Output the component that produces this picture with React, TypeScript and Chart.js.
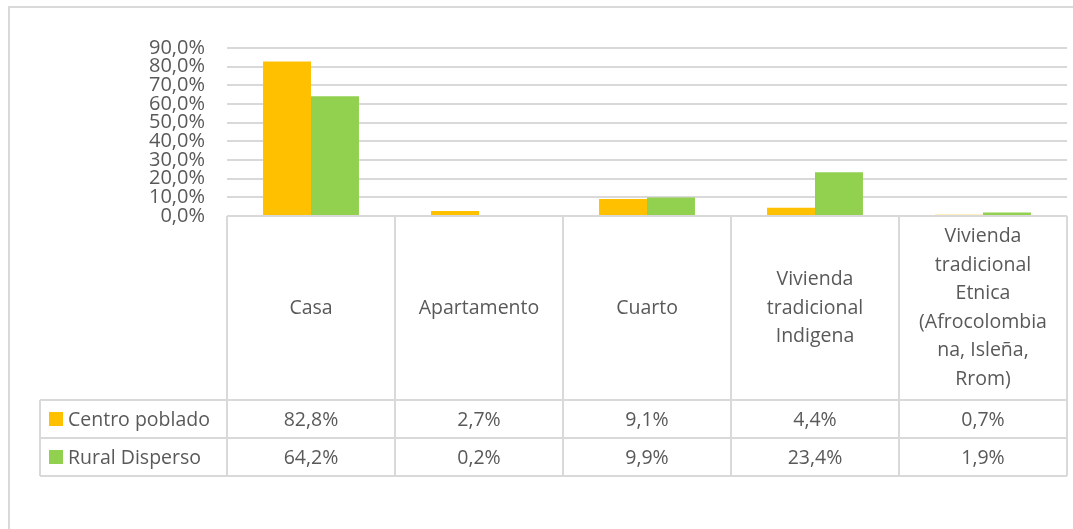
import React, { useEffect, useRef } from "react";
import { Chart, registerables } from "chart.js";

Chart.register(...registerables);

const categories: string[][] = [
  ["Casa"],
  ["Apartamento"],
  ["Cuarto"],
  ["Vivienda", "tradicional", "Indigena"],
  ["Vivienda", "tradicional", "Etnica", "(Afrocolombia", "na, Isleña,", "Rrom)"],
];
const seriesNames = ["Centro poblado", "Rural Disperso"];
const centroPoblado = [82.8, 2.7, 9.1, 4.4, 0.7];
const ruralDisperso = [64.2, 0.2, 9.9, 23.4, 1.9];
const seriesColors = ["#FFC000", "#92D050"];
const yMax = 90;
const yStep = 10;

const fmt = (v: number) => v.toFixed(1).replace(".", ",") + "%";

const FONT = "'Open Sans', 'Noto Sans', sans-serif";
const TEXT = "#595959";
const LINE = "#d9d9d9";

const tablePlugin = {
  id: "dataTable",
  afterDraw(chart: any) {
    const ctx = chart.ctx as CanvasRenderingContext2D;
    const area = chart.chartArea;
    const xs = chart.scales.x;
    const n = categories.length;
    const colW = (area.right - area.left) / n;
    const top = area.bottom;
    const headerH = 184;
    const rowH = 38;
    const legendLeft = 40;
    const headerBottom = top + headerH;
    const row1Bottom = headerBottom + rowH;
    const row2Bottom = row1Bottom + rowH;

    ctx.save();
    // outer frame
    ctx.strokeStyle = LINE;
    ctx.lineWidth = 2;
    ctx.beginPath();
    ctx.moveTo(9, chart.height);
    ctx.lineTo(9, 7);
    ctx.lineTo(chart.width, 7);
    ctx.stroke();

    // table lines
    ctx.beginPath();
    ctx.moveTo(area.left, top);
    ctx.lineTo(area.right, top);
    [headerBottom, row1Bottom, row2Bottom].forEach((y) => {
      ctx.moveTo(legendLeft, y);
      ctx.lineTo(area.right, y);
    });
    for (let i = 0; i <= n; i++) {
      const x = area.left + i * colW;
      ctx.moveTo(x, top);
      ctx.lineTo(x, row2Bottom);
    }
    ctx.moveTo(legendLeft, headerBottom);
    ctx.lineTo(legendLeft, row2Bottom);
    ctx.stroke();

    // header text
    ctx.fillStyle = TEXT;
    ctx.font = `19.5px ${FONT}`;
    ctx.textAlign = "center";
    ctx.textBaseline = "middle";
    const lh = 28.6;
    categories.forEach((lines, i) => {
      const cx = xs.getPixelForValue(i);
      const cy = top + headerH / 2;
      const start = cy - ((lines.length - 1) * lh) / 2;
      lines.forEach((ln, j) => ctx.fillText(ln, cx, start + j * lh));
    });

    // data rows
    const rows = [centroPoblado, ruralDisperso];
    rows.forEach((vals, r) => {
      const cy = headerBottom + rowH * r + rowH / 2;
      ctx.textAlign = "center";
      ctx.fillStyle = TEXT;
      vals.forEach((v, i) => {
        ctx.fillText(fmt(v), xs.getPixelForValue(i), cy + 1);
      });
      ctx.fillStyle = seriesColors[r];
      ctx.fillRect(legendLeft + 9, cy - 7, 14, 14);
      ctx.fillStyle = TEXT;
      ctx.textAlign = "left";
      ctx.fillText(seriesNames[r], legendLeft + 28, cy + 1);
    });
    ctx.restore();
  },
};

export default function App() {
  const ref = useRef<HTMLCanvasElement | null>(null);
  useEffect(() => {
    if (!ref.current) return;
    const chart = new Chart(ref.current, {
      type: "bar",
      data: {
        labels: categories,
        datasets: [
          {
            label: seriesNames[0],
            data: centroPoblado,
            backgroundColor: seriesColors[0],
            categoryPercentage: 0.571,
            barPercentage: 1,
          },
          {
            label: seriesNames[1],
            data: ruralDisperso,
            backgroundColor: seriesColors[1],
            categoryPercentage: 0.571,
            barPercentage: 1,
          },
        ],
      },
      options: {
        animation: false,
        responsive: true,
        maintainAspectRatio: false,
        layout: { padding: { left: 0, right: 6, top: 48, bottom: 313 } },
        plugins: { legend: { display: false }, tooltip: { enabled: false }, title: { display: false } },
        scales: {
          x: { display: false },
          y: {
            min: 0,
            max: yMax,
            afterFit: (s: any) => {
              s.width = 227;
            },
            border: { display: false },
            grid: { color: LINE, lineWidth: 2, drawTicks: false },
            ticks: {
              stepSize: yStep,
              autoSkip: false,
              padding: 22,
              color: TEXT,
              font: { family: FONT, size: 20, lineHeight: 1 },
              callback: (v: any) => fmt(Number(v)),
            },
          },
        },
      },
      plugins: [tablePlugin],
    });
    return () => chart.destroy();
  }, []);
  return (
    <div style={{ position: "fixed", left: 0, top: 0, width: 1073, height: 529, background: "#fff" }}>
      <canvas ref={ref} />
    </div>
  );
}
